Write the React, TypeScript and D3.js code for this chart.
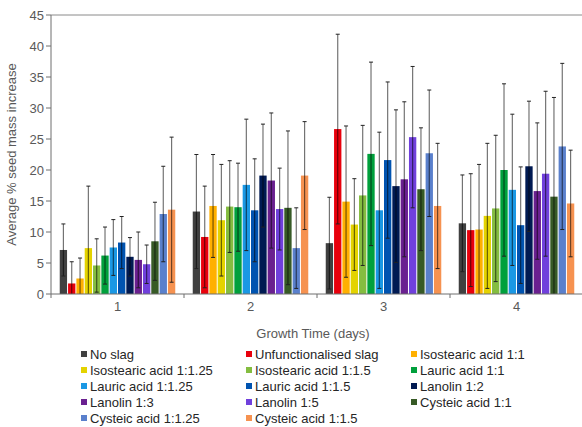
import React from "react";
import { scaleBand, scaleLinear, range } from "d3";

// growth time groups
const days = ["1", "2", "3", "4"];

const seriesNames = [
  "No slag",
  "Unfunctionalised slag",
  "Isostearic acid 1:1",
  "Isostearic acid 1:1.25",
  "Isostearic acid  1:1.5",
  "Lauric acid 1:1",
  "Lauric acid 1:1.25",
  "Lauric acid 1:1.5",
  "Lanolin 1:2",
  "Lanolin 1:3",
  "Lanolin 1:5",
  "Cysteic acid 1:1",
  "Cysteic acid 1:1.25",
  "Cysteic acid 1:1.5",
];

const seriesColors = [
  "#404040", "#e8000c", "#ffb000", "#e4d300", "#84bd40", "#00a03c", "#1a98e4",
  "#0053b0", "#001a52", "#6a2090", "#7040dc", "#375a26", "#5a80cc", "#f69250",
];

// mean % mass increase, one array per day, in series order
const day1 = [7.1, 1.7, 2.5, 7.4, 4.6, 6.2, 7.5, 8.3, 6.0, 5.5, 4.8, 8.5, 12.9, 13.6];
const day2 = [13.3, 9.2, 14.2, 11.9, 14.1, 14.0, 17.6, 13.5, 19.1, 18.3, 13.7, 13.9, 7.4, 19.1];
const day3 = [8.2, 26.6, 14.9, 11.2, 15.9, 22.6, 13.5, 21.6, 17.4, 18.5, 25.3, 16.9, 22.7, 14.2];
const day4 = [11.4, 10.3, 10.4, 12.6, 13.8, 20.0, 16.8, 11.1, 20.6, 16.6, 19.4, 15.7, 23.8, 14.6];

// standard deviations
const err1 = [4.2, 3.5, 3.3, 10.0, 4.3, 4.6, 4.5, 4.2, 3.1, 4.5, 3.1, 6.3, 7.7, 11.7];
const err2 = [9.2, 8.2, 8.3, 9.0, 7.4, 7.1, 10.6, 8.3, 8.3, 10.9, 6.6, 12.4, 6.5, 8.7];
const err3 = [7.4, 15.3, 12.2, 7.4, 11.3, 14.8, 12.6, 12.6, 12.3, 12.5, 11.4, 9.9, 10.2, 10.1];
const err4 = [7.8, 9.1, 10.5, 11.7, 11.8, 13.9, 12.2, 9.4, 10.5, 11.0, 13.3, 16.0, 13.4, 8.6];

const yTicks = [0, 5, 10, 15, 20, 25, 30, 35, 40, 45];

const means = [day1, day2, day3, day4];
const errs = [err1, err2, err3, err4];

const font = "'Liberation Sans', Arial, sans-serif";

const App = () => {
  const width = 582;
  const height = 427;
  const left = 51;
  const right = 583;
  const top = 15;
  const bottom = 294;

  const x0 = scaleBand().domain(days).range([left, right]);
  const x1 = scaleBand()
    .domain(seriesNames)
    .range([0, x0.bandwidth()])
    .paddingInner(0.12)
    .paddingOuter(1.05);
  const y = scaleLinear().domain([0, 45]).range([bottom, top]);

  const bw = x1.bandwidth();

  return (
    <svg
      width={width}
      height={height}
      style={{ position: "absolute", left: 0, top: 0, background: "#fff" }}
      fontFamily={font}
    >
      <defs>
        <clipPath id="plot">
          <rect x={left} y={0} width={right - left} height={bottom} />
        </clipPath>
      </defs>

      {/* top frame */}
      <line x1={left} x2={right} y1={top} y2={top} stroke="#8a8a8a" />

      {/* bars */}
      {days.map((d, gi) => (
        <g key={d} transform={`translate(${x0(d)},0)`}>
          {seriesNames.map((s, si) => (
            <rect
              key={s}
              x={x1(s)}
              y={y(means[gi][si])}
              width={bw}
              height={bottom - y(means[gi][si])}
              fill={seriesColors[si]}
            />
          ))}
        </g>
      ))}

      {/* error bars */}
      <g clipPath="url(#plot)">
        {days.map((d, gi) => (
          <g key={d} transform={`translate(${x0(d)},0)`}>
            {seriesNames.map((s, si) => {
              const cx = x1(s) + bw / 2;
              const hi = y(means[gi][si] + errs[gi][si]);
              const lo = y(means[gi][si] - errs[gi][si]);
              return (
                <g key={s}>
                  <line x1={cx} x2={cx} y1={hi} y2={lo} stroke="#000" strokeOpacity={0.55} strokeWidth={1.2} />
                  <line x1={cx - 2} x2={cx + 2} y1={hi} y2={hi} stroke="#222" strokeWidth={1} />
                  <line x1={cx - 2} x2={cx + 2} y1={lo} y2={lo} stroke="#222" strokeWidth={1} />
                </g>
              );
            })}
          </g>
        ))}
      </g>

      {/* y axis */}
      <line x1={left} x2={left} y1={top} y2={bottom} stroke="#6e6e6e" />
      {yTicks.map((t) => (
        <g key={t}>
          <line x1={left - 5} x2={left} y1={y(t)} y2={y(t)} stroke="#6e6e6e" />
          <text x={left - 7} y={y(t)} dy="0.35em" textAnchor="end" fontSize={13} fill="#595959">
            {t}
          </text>
        </g>
      ))}
      <text
        transform={`translate(16,${(top + bottom) / 2}) rotate(-90)`}
        textAnchor="middle"
        fontSize={13}
        fill="#595959"
      >
        Average % seed mass increase
      </text>

      {/* x axis */}
      <line x1={left} x2={right} y1={bottom} y2={bottom} stroke="#6e6e6e" />
      {range(days.length + 1).map((i) => {
        const xt = left + i * x0.bandwidth();
        return <line key={i} x1={xt} x2={xt} y1={bottom} y2={bottom + 4} stroke="#6e6e6e" />;
      })}
      {days.map((d) => (
        <text
          key={d}
          x={x0(d) + x0.bandwidth() / 2}
          y={bottom + 17}
          textAnchor="middle"
          fontSize={13}
          fill="#595959"
        >
          {d}
        </text>
      ))}
      <text x={313} y={338} textAnchor="middle" fontSize={13} fill="#595959">
        Growth Time (days)
      </text>

      {/* legend, 3 columns */}
      {seriesNames.map((s, i) => {
        const col = i % 3;
        const row = Math.floor(i / 3);
        const lx = [81, 246, 411][col];
        const ly = 354 + row * 16;
        return (
          <g key={s} transform={`translate(${lx},${ly})`}>
            <rect x={0} y={-3} width={6} height={6} fill={seriesColors[i]} />
            <text x={9} y={0} dy="0.35em" fontSize={13} fill="#262626">
              {s}
            </text>
          </g>
        );
      })}
    </svg>
  );
};

export default App;
